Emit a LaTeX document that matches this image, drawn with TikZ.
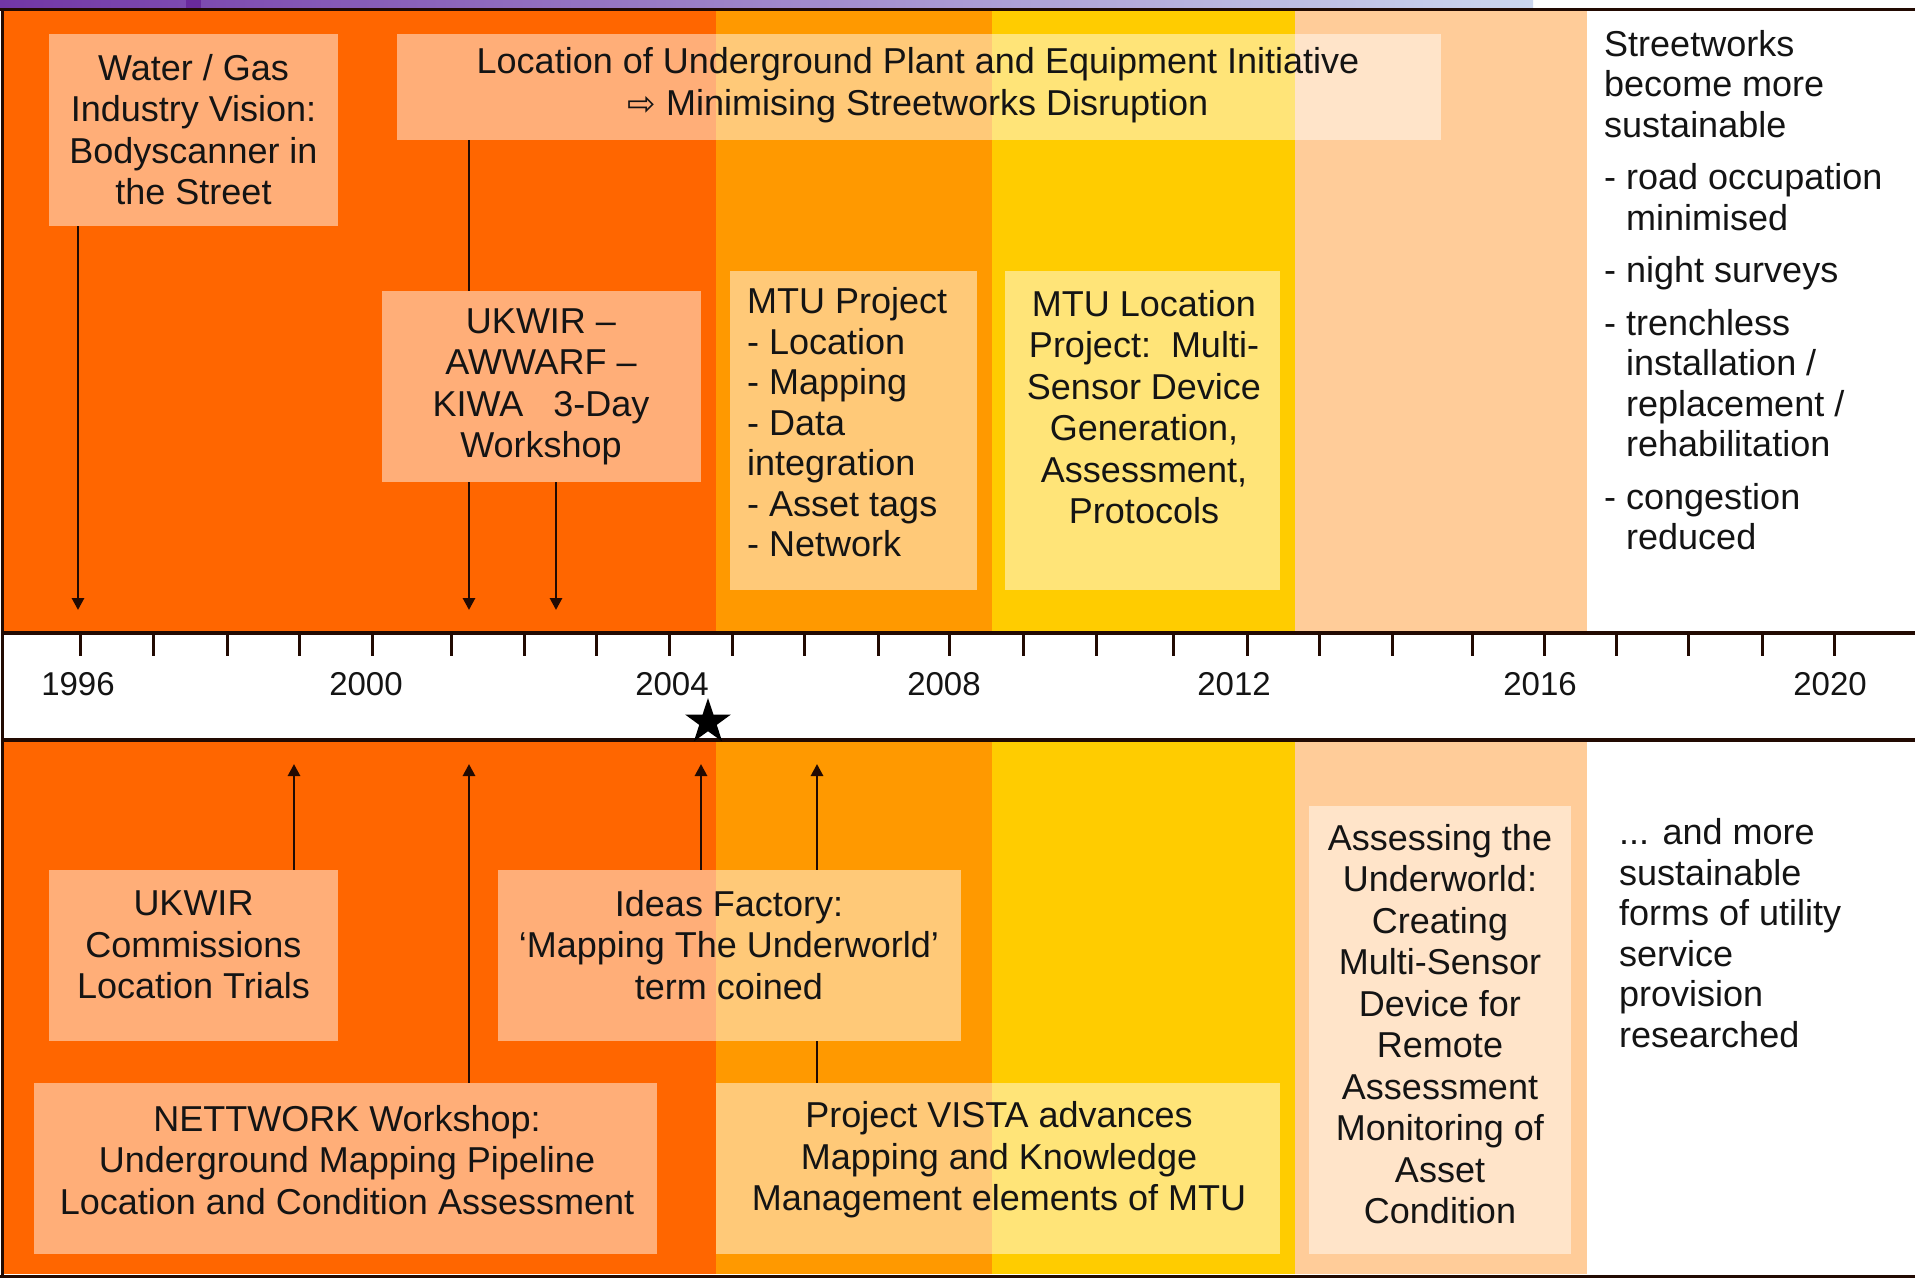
\documentclass[tikz,border=0pt]{standalone}
\usepackage{fontspec}
\setmainfont{Liberation Sans}
\newfontfamily\symfont{DejaVu Sans}
\usetikzlibrary{shapes.geometric,arrows.meta}
\definecolor{darkor}{HTML}{FF6600}
\definecolor{medor}{HTML}{FF9900}
\definecolor{yelc}{HTML}{FFCC00}
\definecolor{peachc}{HTML}{FFCC99}
\definecolor{txtcol}{HTML}{141414}
\definecolor{linecol}{HTML}{220A02}
\definecolor{purpA}{HTML}{7236A6}
\definecolor{purpB}{HTML}{CCD6EE}
\definecolor{purpC}{HTML}{6A2A9C}
\begin{document}
\begin{tikzpicture}[x=1pt,y=-1pt,
  overlaybox/.style={rectangle, fill=white, fill opacity=0.47, draw=none, inner sep=0pt},
  bodytext/.style={font=\fontsize{36}{41.5}\selectfont, align=center, inner sep=0pt, text=txtcol},
  lefttext/.style={font=\fontsize{36}{40.5}\selectfont, align=left, inner sep=0pt, text=txtcol, anchor=west},
  arr/.style={draw=linecol, line width=2.8pt, -{Triangle[length=12pt,width=12pt]}},
  conn/.style={draw=linecol, line width=2.8pt},
  yeartick/.style={draw=linecol, line width=3pt},
  yearlabel/.style={font=\fontsize{33}{36}\selectfont, text=txtcol, inner sep=0pt}]
\useasboundingbox (0,0) rectangle (1915,1278);
% background
\fill[white] (0,0) rectangle (1915,1278);
\shade[left color=purpA, right color=purpB] (0,0) rectangle (1533,8);
\fill[purpC] (186,0) rectangle (201,8);
% columns
\fill[darkor] (4,10) rectangle (716,1274);
\fill[medor] (716,10) rectangle (992,1274);
\fill[yelc] (992,10) rectangle (1295,1274);
\fill[peachc] (1295,10) rectangle (1587,1274);
% timeline band
\fill[white] (4,633) rectangle (1915,740);
\draw[linecol, line width=4pt] (4,633) -- (1915,633);
\draw[linecol, line width=4pt] (4,740) -- (1915,740);
% frame
\draw[linecol, line width=3pt] (0,9.5) -- (1915,9.5);
\draw[linecol, line width=3pt] (2.5,9.5) -- (2.5,1276);
\draw[linecol, line width=3pt] (0,1276) -- (1915,1276);
% ticks
\foreach \tx in {80,153,227,299,372,451,524,596,669,732,804,878,949,1023,1096,1173,1247,1319,1392,1472,1544,1616,1688,1762,1834}
  \draw[yeartick] (\tx,634) -- (\tx,656);
% year labels
\node[yearlabel] (y1996) at (78,684) {1996};
\node[yearlabel] (y2000) at (366,684) {2000};
\node[yearlabel] (y2004) at (672,684) {2004};
\node[yearlabel] (y2008) at (944,684) {2008};
\node[yearlabel] (y2012) at (1234,684) {2012};
\node[yearlabel] (y2016) at (1540,684) {2016};
\node[yearlabel] (y2020) at (1830,684) {2020};
% star
\node[star, star points=5, star point ratio=2.6, fill=black, draw=none, minimum size=48pt, inner sep=0pt] (star) at (708,722) {};
% boxes
\node[overlaybox, minimum width=289pt, minimum height=192pt] (water) at (193.5,130) {};
\node[overlaybox, minimum width=1044pt, minimum height=106pt] (loc) at (919,87) {};
\node[overlaybox, minimum width=319pt, minimum height=191pt] (ukwir) at (541.5,386.5) {};
\node[overlaybox, minimum width=247pt, minimum height=319pt] (mtup) at (853.5,430.5) {};
\node[overlaybox, minimum width=275pt, minimum height=319pt] (mtul) at (1142.5,430.5) {};
\node[overlaybox, minimum width=289pt, minimum height=171pt] (ukcom) at (193.5,955.5) {};
\node[overlaybox, minimum width=463pt, minimum height=171pt] (ideas) at (729.5,955.5) {};
\node[overlaybox, minimum width=623pt, minimum height=171pt] (nett) at (345.5,1168.5) {};
\node[overlaybox, minimum width=564pt, minimum height=171pt] (vista) at (998,1168.5) {};
\node[overlaybox, minimum width=262pt, minimum height=448pt] (assess) at (1440,1030) {};
% texts
\node[bodytext] (waterT) at (193.5,129.5) {Water / Gas\\Industry Vision:\\Bodyscanner in\\the Street};
\node[bodytext] (locT) at (918,85) {Location of Underground Plant and Equipment Initiative\\{\symfont\fontsize{34}{36}\selectfont ⇨} Minimising Streetworks Disruption};
\node[bodytext] (ukwirT) at (541,387) {UKWIR –\\AWWARF –\\KIWA\hspace{30pt}3-Day\\Workshop};
\node[lefttext] (mtupT) at (747,422.5) {MTU Project\\- Location\\- Mapping\\- Data\\integration\\- Asset tags\\- Network};
\node[bodytext] (mtulT) at (1144,407) {MTU Location\\Project:\ \ Multi-\\Sensor Device\\Generation,\\Assessment,\\Protocols};
\node[bodytext] (ukcomT) at (193.5,945) {UKWIR\\Commissions\\Location Trials};
\node[bodytext] (ideasT) at (729,945) {Ideas Factory:\\‘Mapping The Underworld’\\term coined};
\node[bodytext] (nettT) at (347,1160) {NETTWORK Workshop:\\Underground Mapping Pipeline\\Location and Condition Assessment};
\node[bodytext] (vistaT) at (999,1160) {Project VISTA advances\\Mapping and Knowledge\\Management elements of MTU};
\node[bodytext] (assessT) at (1440,1024) {Assessing the\\Underworld:\\Creating\\Multi-Sensor\\Device for\\Remote\\Assessment\\Monitoring of\\Asset\\Condition};
\node[lefttext] (streetT) at (1604,290) {Streetworks\\become more\\sustainable\\[12pt]- road occupation\\\phantom{- }minimised\\[12pt]- night surveys\\[12pt]- trenchless\\\phantom{- }installation /\\\phantom{- }replacement /\\\phantom{- }rehabilitation\\[12pt]- congestion\\\phantom{- }reduced};
\node[lefttext] (moreT) at (1619,933) {... and more\\sustainable\\forms of utility\\service\\provision\\researched};
% connector end points on the timeline
\coordinate (t1) at (78,610);
\coordinate (t2) at (469,610);
\coordinate (t3) at (556,610);
\coordinate (b1) at (294,764);
\coordinate (b2) at (469,764);
\coordinate (b3) at (701,764);
\coordinate (b4) at (817,764);
% connectors
\draw[arr] (water.south -| t1) -- (t1);
\draw[conn] (loc.south -| t2) -- (ukwir.north -| t2);
\draw[arr] (ukwir.south -| t2) -- (t2);
\draw[arr] (ukwir.south -| t3) -- (t3);
\draw[arr] (ukcom.north -| b1) -- (b1);
\draw[arr] (nett.north -| b2) -- (b2);
\draw[arr] (ideas.north -| b3) -- (b3);
\draw[conn] (vista.north -| b4) -- (ideas.south -| b4);
\draw[arr] (ideas.north -| b4) -- (b4);
\end{tikzpicture}
\end{document}
